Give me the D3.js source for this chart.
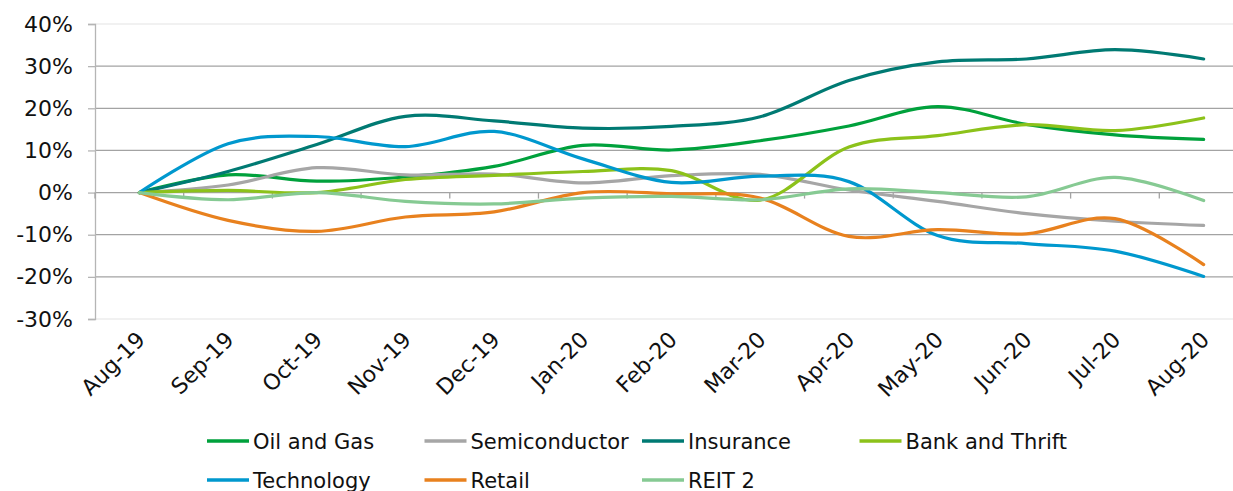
<!DOCTYPE html>
<html>
<head>
<meta charset="utf-8">
<script src="https://cdn.jsdelivr.net/npm/d3@7"></script>
<style>
  body { margin: 0; background: #fff; }
  svg { display: block; font-family: "DejaVu Sans", Verdana, sans-serif; }
</style>
</head>
<body>
<div id="chart"></div>
<script>
var months = ["Aug-19", "Sep-19", "Oct-19", "Nov-19", "Dec-19", "Jan-20", "Feb-20",
  "Mar-20", "Apr-20", "May-20", "Jun-20", "Jul-20", "Aug-20"];

var oilGas        = [0, 4.2, 2.7, 3.7, 6.2, 11.2, 10.1, 12.3, 15.8, 20.4, 16.2, 13.7, 12.6];
var semiconductor = [0, 1.8, 5.9, 4.2, 4.4, 2.3, 4.0, 4.3, 0.6, -2.1, -5.0, -6.8, -7.8];
var insurance     = [0, 5.0, 11.4, 18.1, 17.0, 15.3, 15.7, 18.0, 26.6, 31.0, 31.7, 33.9, 31.7];
var bankThrift    = [0, 0.5, 0.0, 3.1, 4.1, 5.0, 5.2, -1.8, 10.8, 13.5, 16.1, 14.7, 17.7];
var technology    = [0, 11.6, 13.3, 10.9, 14.5, 8.0, 2.4, 3.9, 2.6, -10.2, -12.1, -13.9, -19.9];
var retail        = [0, -6.6, -9.2, -5.8, -4.6, 0.0, -0.3, -1.3, -10.4, -8.8, -9.8, -6.2, -17.1];
var reit2         = [0, -1.7, 0.0, -2.1, -2.7, -1.3, -0.9, -1.7, 0.9, 0.0, -1.0, 3.6, -1.9];

var seriesNames  = ["Oil and Gas", "Semiconductor", "Insurance", "Bank and Thrift", "Technology", "Retail", "REIT 2"];
var seriesValues = [oilGas, semiconductor, insurance, bankThrift, technology, retail, reit2];
var seriesColors = ["#00A13C", "#A6A6A6", "#007A73", "#8CC21A", "#0098CE", "#E8811E", "#86CA93"];
var yTicks = [-30, -20, -10, 0, 10, 20, 30, 40];

var width = 1233, height = 491;

var svg = d3.select("#chart").append("svg")
  .attr("width", width)
  .attr("height", height);

var x = d3.scaleBand()
  .domain(months)
  .range([95, 1248]);

var y = d3.scaleLinear()
  .domain([-30, 40])
  .range([319, 24]);

// gridlines
svg.append("g")
  .selectAll("line")
  .data(yTicks)
  .enter().append("line")
  .attr("x1", 95)
  .attr("x2", width)
  .attr("y1", function(d) { return y(d); })
  .attr("y2", function(d) { return y(d); })
  .attr("stroke", function(d) { return (d == 40 || d == -30) ? "#ececec" : "#a3a3a3"; })
  .attr("stroke-width", 1.3);

// y axis
var yAxis = svg.append("g")
  .attr("transform", "translate(95,0)")
  .call(d3.axisLeft(y).tickValues(yTicks).tickSize(7).tickPadding(15)
    .tickFormat(function(d) { return d + "%"; }));
yAxis.select(".domain").attr("stroke", "#b5b5b5").attr("stroke-width", 1.3);
yAxis.selectAll(".tick line").attr("stroke", "#b5b5b5").attr("stroke-width", 1.3);
yAxis.selectAll("text")
  .attr("font-size", 22)
  .attr("font-family", "DejaVu Sans, Verdana, sans-serif")
  .attr("fill", "#111");

// category ticks sitting on the zero line
svg.append("g")
  .selectAll("line")
  .data(months.concat(["end"]))
  .enter().append("line")
  .attr("x1", function(d, i) { return 95 + i * x.step(); })
  .attr("x2", function(d, i) { return 95 + i * x.step(); })
  .attr("y1", y(0))
  .attr("y2", y(0) + 6)
  .attr("stroke", "#a3a3a3")
  .attr("stroke-width", 1.3);

// x labels
svg.append("g")
  .selectAll("text")
  .data(months)
  .enter().append("text")
  .attr("transform", function(d) {
    return "translate(" + (x(d) + x.bandwidth() / 2 + 7) + ",341)rotate(-45)";
  })
  .attr("text-anchor", "end")
  .attr("font-size", 22)
  .attr("fill", "#111")
  .text(function(d) { return d; });

// lines
var line = d3.line()
  .x(function(d, i) { return x(months[i]) + x.bandwidth() / 2; })
  .y(function(d) { return y(d); })
  .curve(d3.curveCardinal.tension(0));

svg.append("g")
  .selectAll("path")
  .data(seriesValues)
  .enter().append("path")
  .attr("d", line)
  .attr("fill", "none")
  .attr("stroke", function(d, i) { return seriesColors[i]; })
  .attr("stroke-width", 3.2)
  .attr("stroke-linejoin", "round")
  .attr("stroke-linecap", "round");

// legend
var legend = svg.append("g")
  .selectAll("g")
  .data(seriesNames)
  .enter().append("g")
  .attr("transform", function(d, i) {
    return "translate(" + (207 + (i % 4) * 217.5) + "," + (441 + Math.floor(i / 4) * 39) + ")";
  });

legend.append("line")
  .attr("x1", 0)
  .attr("x2", 42)
  .attr("stroke", function(d, i) { return seriesColors[i]; })
  .attr("stroke-width", 3.5);

legend.append("text")
  .attr("x", 46)
  .attr("dy", "0.36em")
  .attr("font-size", 21)
  .attr("fill", "#111")
  .text(function(d) { return d; });
</script>
</body>
</html>
